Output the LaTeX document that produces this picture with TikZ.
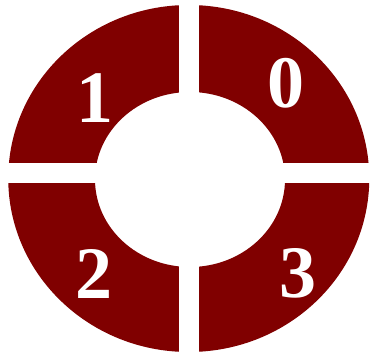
\documentclass[tikz,border=0pt]{standalone}
\usepackage{fontspec}
\setmainfont{Liberation Serif}
\definecolor{ringred}{HTML}{800000}
\begin{document}
\begin{tikzpicture}[x=1pt,y=-1pt,
  digit/.style={text=white,font=\fontsize{74}{74}\selectfont\bfseries,inner sep=0pt,anchor=center}]
\useasboundingbox (0,0) rectangle (371,355);
\fill[ringred,even odd rule] (188.75,178.5) ellipse [x radius=180.5,y radius=173.5]
  (190,179.5) ellipse [x radius=95,y radius=87.5];
\fill[white] (179,0) rectangle (199,355);
\fill[white] (0,163) rectangle (371,183);
\node[digit] (d0) at (285.5,83.5) {0};
\node[digit] (d1) at (95,98) {1};
\node[digit] (d2) at (94,273.5) {2};
\node[digit] (d3) at (297.5,273.5) {3};
\end{tikzpicture}
\end{document}
